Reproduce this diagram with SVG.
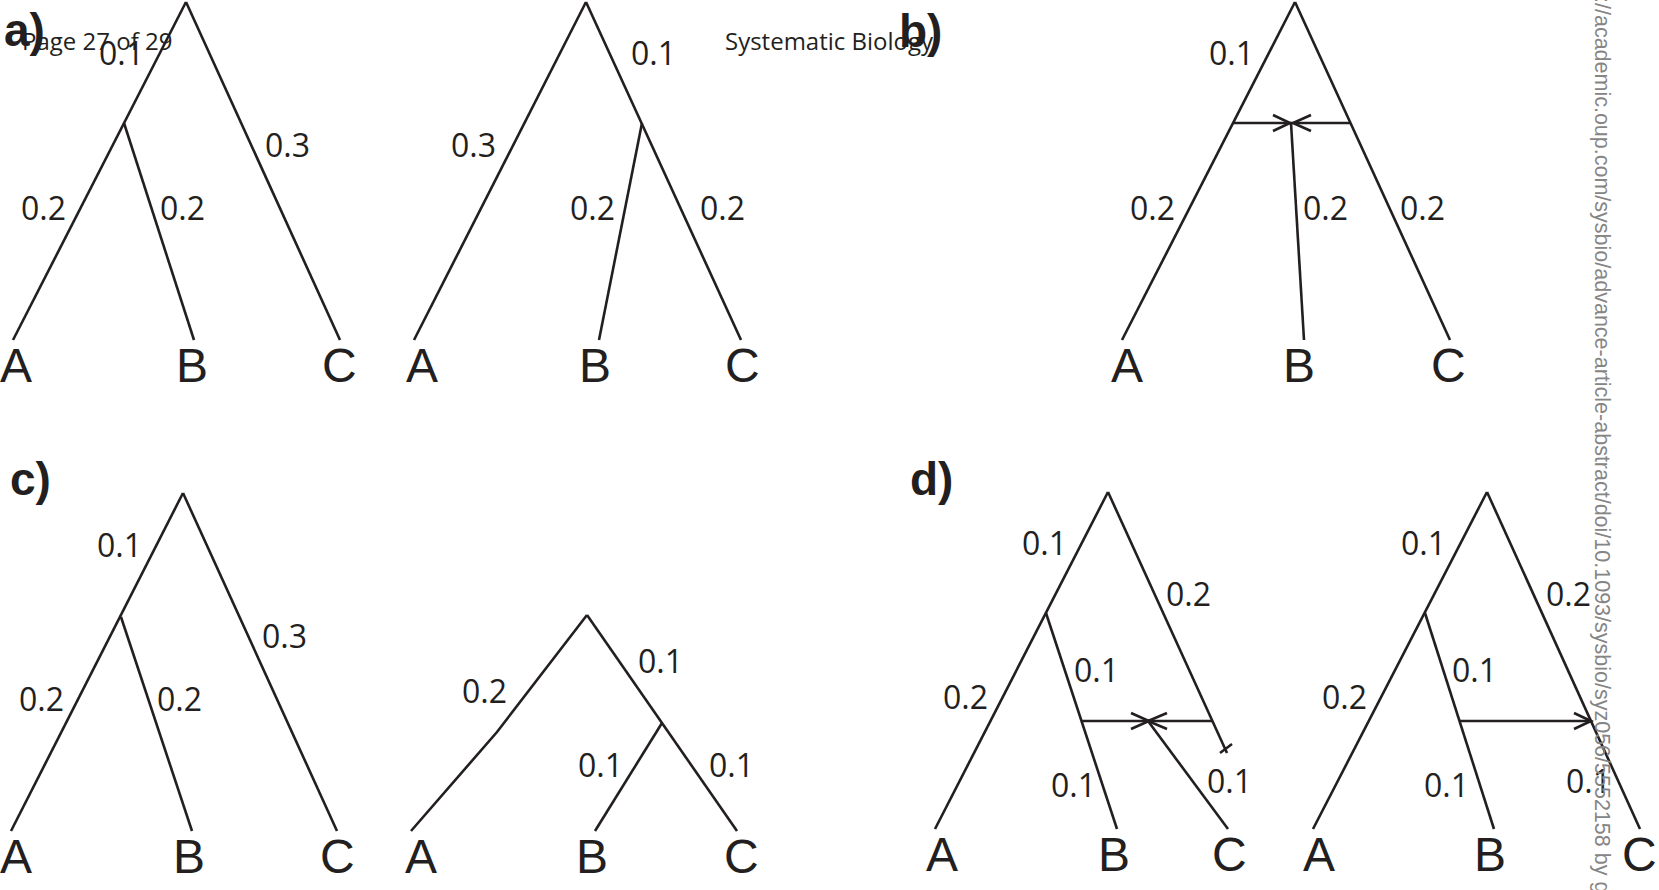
<svg xmlns="http://www.w3.org/2000/svg" width="1659" height="890" viewBox="0 0 1659 890">
<style>
.e{stroke:#231f20;stroke-width:2.6;fill:none;stroke-linecap:butt;stroke-linejoin:miter}
.n{font-family:"Open Sans","Noto Sans",sans-serif;font-size:32px;fill:#231f20}
.t{font-family:"Liberation Sans",Arial,sans-serif;font-size:48px;fill:#231f20}
.p{font-family:"Liberation Sans",Arial,sans-serif;font-size:46px;font-weight:bold;fill:#231f20}
.h{font-family:"Open Sans","Noto Sans",sans-serif;font-size:24px;fill:#231f20}
.w{font-family:"Liberation Sans",Arial,sans-serif;font-size:21.5px;fill:#858585}
</style>
<rect width="1659" height="890" fill="#ffffff"/>

<g id="connectors">
  <!-- a1 -->
  <line class="e" x1="186" y1="2" x2="13" y2="340"/>
  <line class="e" x1="124" y1="123" x2="194" y2="340"/>
  <line class="e" x1="186" y1="2" x2="340" y2="340"/>
  <!-- a2 -->
  <line class="e" x1="586" y1="2" x2="414" y2="340"/>
  <line class="e" x1="586" y1="2" x2="741" y2="340"/>
  <line class="e" x1="642" y1="123" x2="599" y2="340"/>
  <!-- b -->
  <line class="e" x1="1295" y1="2" x2="1122" y2="340"/>
  <line class="e" x1="1295" y1="2" x2="1450" y2="340"/>
  <line class="e" x1="1233" y1="123" x2="1351" y2="123"/>
  <line class="e" x1="1291" y1="123" x2="1304" y2="340"/>
  <polyline class="e" points="1273,115 1290,123 1273,131"/>
  <polyline class="e" points="1311,115 1293,123 1311,131"/>
  <!-- c1 -->
  <line class="e" x1="183" y1="493" x2="11" y2="831"/>
  <line class="e" x1="121" y1="617" x2="192" y2="831"/>
  <line class="e" x1="183" y1="493" x2="337" y2="831"/>
  <!-- c2 -->
  <polyline class="e" points="587,615 497,732 411,831"/>
  <line class="e" x1="587" y1="615" x2="737" y2="831"/>
  <line class="e" x1="662" y1="723" x2="595" y2="831"/>
  <!-- d1 -->
  <line class="e" x1="1108" y1="492" x2="1227" y2="753"/>
  <line class="e" x1="1108" y1="492" x2="935" y2="829"/>
  <line class="e" x1="1046" y1="613" x2="1117" y2="829"/>
  <line class="e" x1="1220" y1="753" x2="1232" y2="744"/>
  <line class="e" x1="1082" y1="721" x2="1212" y2="721"/>
  <line class="e" x1="1148" y1="721" x2="1228" y2="829"/>
  <polyline class="e" points="1131,713 1149,721 1131,729"/>
  <polyline class="e" points="1167,713 1148,721 1167,729"/>
  <!-- d2 -->
  <line class="e" x1="1487" y1="492" x2="1313" y2="829"/>
  <line class="e" x1="1425" y1="613" x2="1494" y2="829"/>
  <line class="e" x1="1487" y1="492" x2="1640" y2="829"/>
  <line class="e" x1="1460" y1="721" x2="1591" y2="721"/>
  <polyline class="e" points="1574,713 1591,721 1574,729"/>
</g>

<g id="panel-labels">
  <text class="p" x="4" y="46">a)</text>
  <text class="p" x="899" y="47">b)</text>
  <text class="p" x="10" y="495">c)</text>
  <text class="p" x="910" y="495">d)</text>
</g>

<g id="tree-a1">
  <g id="a1-A"><text class="t" x="0" y="382">A</text></g>
  <g id="a1-B"><text class="t" x="176" y="382">B</text></g>
  <g id="a1-C"><text class="t" x="322" y="382">C</text></g>
  <text class="n" x="99" y="65">0.1</text>
  <text class="n" x="265" y="157">0.3</text>
  <text class="n" x="21" y="220">0.2</text>
  <text class="n" x="160" y="220">0.2</text>
</g>

<g id="tree-a2">
  <g id="a2-A"><text class="t" x="406" y="382">A</text></g>
  <g id="a2-B"><text class="t" x="579" y="382">B</text></g>
  <g id="a2-C"><text class="t" x="725" y="382">C</text></g>
  <text class="n" x="631" y="65">0.1</text>
  <text class="n" x="451" y="157">0.3</text>
  <text class="n" x="570" y="220">0.2</text>
  <text class="n" x="700" y="220">0.2</text>
</g>

<g id="tree-b">
  <g id="b-A"><text class="t" x="1111" y="382">A</text></g>
  <g id="b-B"><text class="t" x="1283" y="382">B</text></g>
  <g id="b-C"><text class="t" x="1431" y="382">C</text></g>
  <text class="n" x="1209" y="65">0.1</text>
  <text class="n" x="1130" y="220">0.2</text>
  <text class="n" x="1303" y="220">0.2</text>
  <text class="n" x="1400" y="220">0.2</text>
</g>

<g id="tree-c1">
  <g id="c1-A"><text class="t" x="0" y="873">A</text></g>
  <g id="c1-B"><text class="t" x="173" y="873">B</text></g>
  <g id="c1-C"><text class="t" x="320" y="873">C</text></g>
  <text class="n" x="97" y="557">0.1</text>
  <text class="n" x="262" y="648">0.3</text>
  <text class="n" x="19" y="711">0.2</text>
  <text class="n" x="157" y="711">0.2</text>
</g>

<g id="tree-c2">
  <g id="c2-A"><text class="t" x="405" y="873">A</text></g>
  <g id="c2-B"><text class="t" x="576" y="873">B</text></g>
  <g id="c2-C"><text class="t" x="724" y="873">C</text></g>
  <text class="n" x="462" y="703">0.2</text>
  <text class="n" x="638" y="673">0.1</text>
  <text class="n" x="578" y="777">0.1</text>
  <text class="n" x="709" y="777">0.1</text>
</g>

<g id="tree-d1">
  <g id="d1-A"><text class="t" x="926" y="871">A</text></g>
  <g id="d1-B"><text class="t" x="1098" y="871">B</text></g>
  <g id="d1-C"><text class="t" x="1212" y="871">C</text></g>
  <text class="n" x="1022" y="555">0.1</text>
  <text class="n" x="1166" y="606">0.2</text>
  <text class="n" x="1074" y="682">0.1</text>
  <text class="n" x="943" y="709">0.2</text>
  <text class="n" x="1051" y="797">0.1</text>
  <text class="n" x="1207" y="793">0.1</text>
</g>

<g id="tree-d2">
  <g id="d2-A"><text class="t" x="1303" y="871">A</text></g>
  <g id="d2-B"><text class="t" x="1474" y="871">B</text></g>
  <g id="d2-C"><text class="t" x="1622" y="871">C</text></g>
  <text class="n" x="1401" y="555">0.1</text>
  <text class="n" x="1546" y="606">0.2</text>
  <text class="n" x="1452" y="682">0.1</text>
  <text class="n" x="1322" y="709">0.2</text>
  <text class="n" x="1424" y="797">0.1</text>
  <text class="n" x="1566" y="793">0.1</text>
</g>

<g id="page-header">
  <text class="h" x="22" y="50">Page 27 of 29</text>
  <text class="h" x="725" y="50">Systematic Biology</text>
</g>

<g id="watermark">
  <text class="w" transform="translate(1595,-3) rotate(90)" x="0" y="0">://academic.oup.com/sysbio/advance-article-abstract/doi/10.1093/sysbio/syz056/5552158 by gu</text>
</g>
</svg>
